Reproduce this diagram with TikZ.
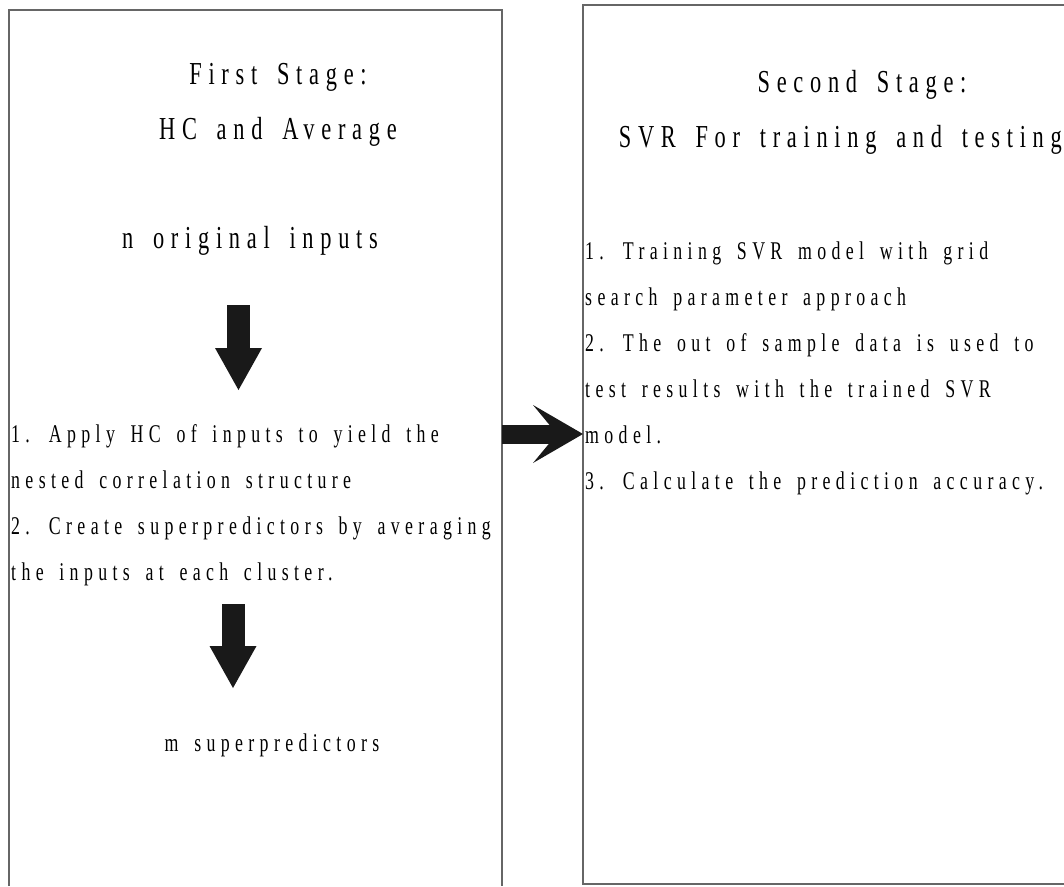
\documentclass[tikz,border=0pt]{standalone}
\usepackage{fontspec}
\newfontfamily\stagefont[FakeStretch=0.7,LetterSpace=21,WordSpace=1.6]{Liberation Serif}
\usetikzlibrary{arrows.meta}

\begin{document}
\begin{tikzpicture}[x=1pt,y=-1pt,
  frame/.style={draw=black!60,line width=1.6pt},
  headline/.style={font=\stagefont\fontsize{32}{55}\selectfont,align=center,inner sep=0pt},
  bodytext/.style={font=\stagefont\fontsize{25.5}{46}\selectfont,align=left,inner sep=0pt},
  fatarrow/.style={draw=black!90,line width=23pt,-{Triangle[length=42pt,width=47pt,line width=0pt]}},
  sidearrow/.style={draw=black!90,line width=19pt,-{Stealth[length=50pt,width=58pt,inset=24pt,line width=0pt]}}]
  \useasboundingbox (0,0) rectangle (1064,886);
  % the two stage boxes
  \draw[frame] (9,886) -- (9,10) -- (502,10) -- (502,886);
  \draw[frame] (1064,5) -- (583,5) -- (583,884) -- (1064,884);
  % first stage
  \node (firsthead) [headline,anchor=north] at (278,63) {First Stage:\\HC and Average};
  \node (ninputs) [headline] at (250,241) {n original inputs};
  \node (hcsteps) [bodytext,anchor=north west] at (11,424)
    {1. Apply HC of inputs to yield the\\nested correlation structure\\
     2. Create superpredictors by averaging\\the inputs at each cluster.};
  \node (msuper) [bodytext] at (272,745) {m superpredictors};
  \coordinate (d1top) at (238.5,305);
  \coordinate (d1tip) at (238.5,390);
  \coordinate (d2top) at (233,604);
  \coordinate (d2tip) at (233,688);
  \draw[fatarrow] (d1top) -- (d1tip);
  \draw[fatarrow] (d2top) -- (d2tip);
  % second stage
  \node (secondhead) [headline,anchor=north] at (862,70) {Second Stage:};
  \node (svrhead) [headline,anchor=north east] at (1062,125) {SVR For training and testing};
  \node (svrsteps) [bodytext,anchor=north west] at (585,242)
    {1. Training SVR model with grid\\search parameter approach\\
     2. The out of sample data is used to\\test results with the trained SVR\\
     model.\\3. Calculate the prediction accuracy.};
  \coordinate (tail) at (502,434);
  \coordinate (tip) at (583,434);
  \draw[sidearrow] (tail) -- (tip);
\end{tikzpicture}
\end{document}
